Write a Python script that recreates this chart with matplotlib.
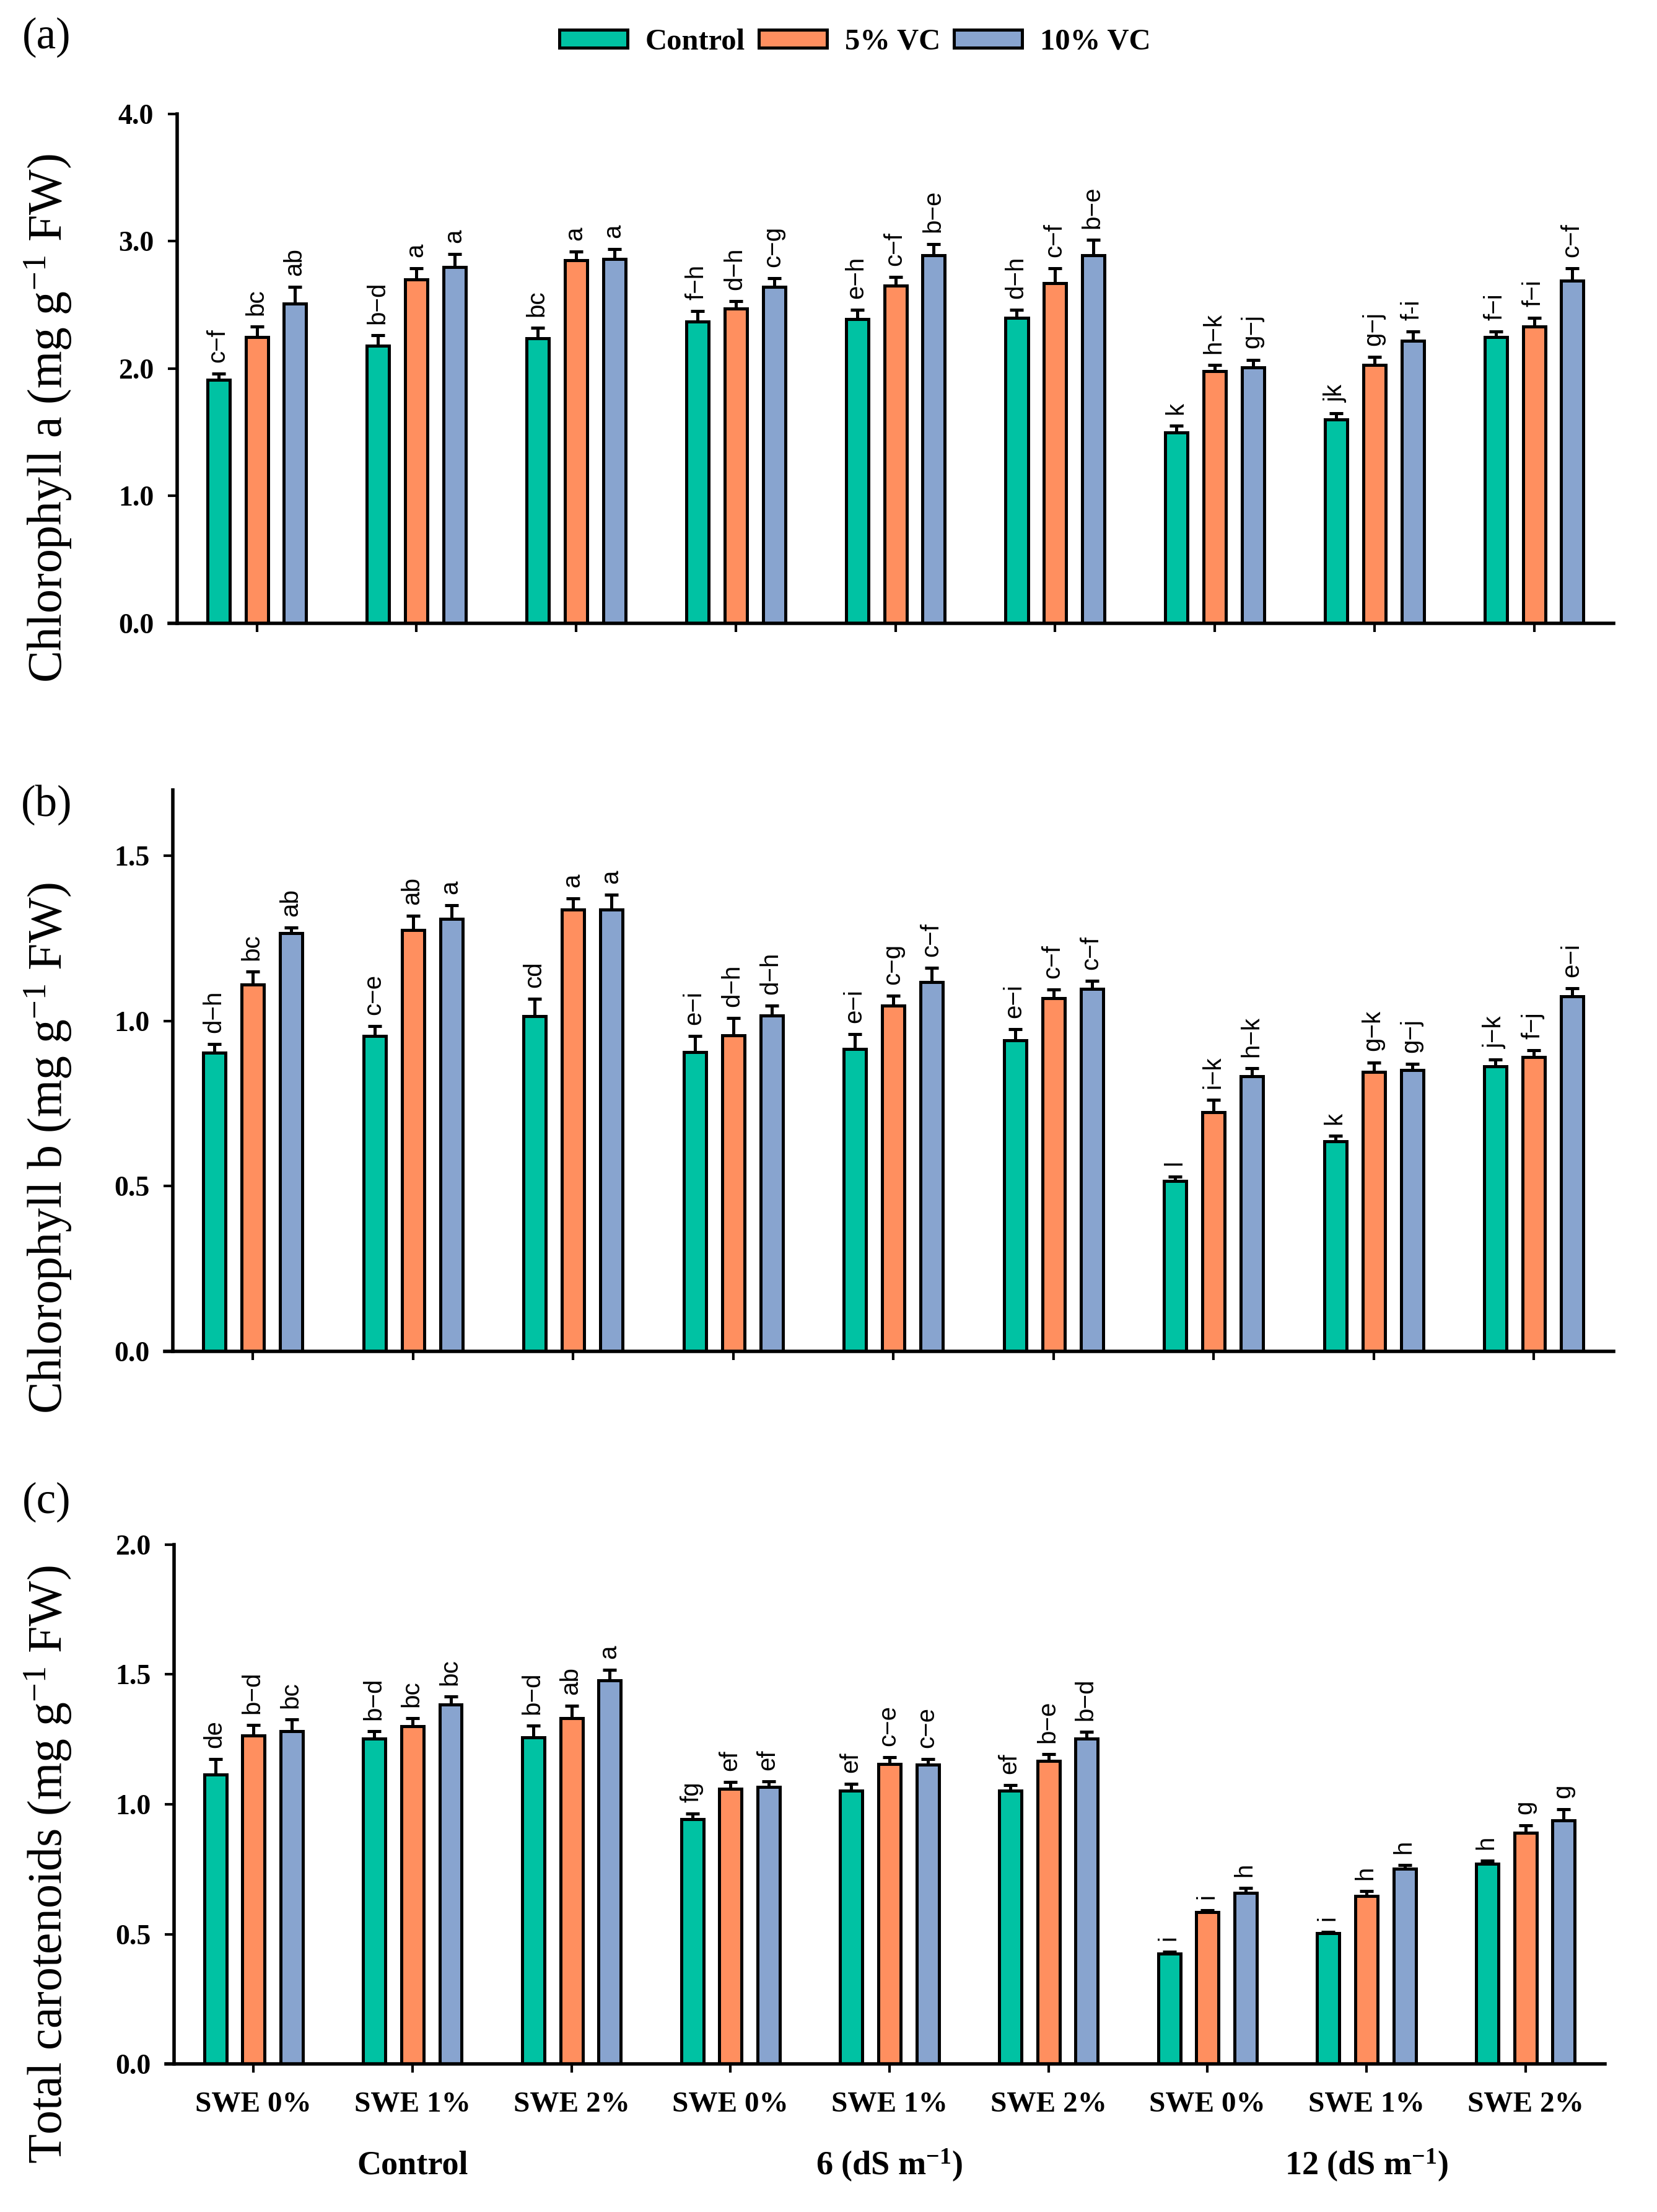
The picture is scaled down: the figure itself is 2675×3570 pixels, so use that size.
import numpy as np
import matplotlib
matplotlib.use("Agg")
import matplotlib.pyplot as plt
from matplotlib.patches import Patch
from matplotlib.transforms import blended_transform_factory

plt.rcParams['font.family'] = ['Liberation Serif', 'DejaVu Serif']
plt.rcParams['mathtext.fontset'] = 'custom'
plt.rcParams['mathtext.rm'] = 'Liberation Serif'
plt.rcParams['mathtext.bf'] = 'Liberation Serif:bold'
plt.rcParams['mathtext.default'] = 'regular'

# x categories
swe_labels = ['SWE 0%', 'SWE 1%', 'SWE 2%'] * 3
salinity_labels = ['Control', '6 (dS m$^{-1}$)', '12 (dS m$^{-1}$)']
series_names = ['Control', '5% VC', '10% VC']
colors = ['#00C2A3', '#FF8F5F', '#88A4CF']

# (a) chlorophyll a
chla_ctrl = [1.91, 2.18, 2.24, 2.37, 2.39, 2.40, 1.50, 1.60, 2.25]
chla_vc5 = [2.25, 2.70, 2.85, 2.47, 2.65, 2.67, 1.98, 2.03, 2.33]
chla_vc10 = [2.51, 2.80, 2.86, 2.64, 2.89, 2.89, 2.01, 2.22, 2.69]
chla_ctrl_err = [0.05, 0.08, 0.08, 0.08, 0.07, 0.06, 0.05, 0.05, 0.04]
chla_vc5_err = [0.08, 0.09, 0.07, 0.06, 0.07, 0.12, 0.05, 0.06, 0.07]
chla_vc10_err = [0.13, 0.10, 0.08, 0.07, 0.09, 0.12, 0.06, 0.07, 0.10]
chla_ctrl_let = ['c−f', 'b−d', 'bc', 'f−h', 'e−h', 'd−h', 'k', 'jk', 'f−i']
chla_vc5_let = ['bc', 'a', 'a', 'd−h', 'c−f', 'c−f', 'h−k', 'g−j', 'f−i']
chla_vc10_let = ['ab', 'a', 'a', 'c−g', 'b−e', 'b−e', 'g−j', 'f-i', 'c−f']

# (b) chlorophyll b
chlb_ctrl = [0.905, 0.954, 1.014, 0.907, 0.916, 0.941, 0.516, 0.636, 0.863]
chlb_vc5 = [1.11, 1.276, 1.337, 0.957, 1.047, 1.07, 0.724, 0.846, 0.891]
chlb_vc10 = [1.267, 1.309, 1.337, 1.016, 1.118, 1.097, 0.832, 0.851, 1.075]
chlb_ctrl_err = [0.025, 0.03, 0.054, 0.048, 0.044, 0.034, 0.013, 0.017, 0.021]
chlb_vc5_err = [0.04, 0.042, 0.035, 0.052, 0.029, 0.026, 0.037, 0.029, 0.021]
chlb_vc10_err = [0.017, 0.042, 0.045, 0.03, 0.044, 0.025, 0.026, 0.02, 0.024]
chlb_ctrl_let = ['d−h', 'c−e', 'cd', 'e−i', 'e−i', 'e−i', 'l', 'k', 'j−k']
chlb_vc5_let = ['bc', 'ab', 'a', 'd−h', 'c−g', 'c−f', 'i−k', 'g−k', 'f−j']
chlb_vc10_let = ['ab', 'a', 'a', 'd−h', 'c−f', 'c−f', 'h−k', 'g−j', 'e−i']

# (c) total carotenoids
car_ctrl = [1.115, 1.254, 1.258, 0.943, 1.053, 1.053, 0.425, 0.503, 0.771]
car_vc5 = [1.266, 1.30, 1.332, 1.06, 1.156, 1.167, 0.584, 0.648, 0.89]
car_vc10 = [1.282, 1.385, 1.478, 1.066, 1.153, 1.252, 0.659, 0.751, 0.938]
car_ctrl_err = [0.06, 0.027, 0.046, 0.021, 0.025, 0.022, 0.007, 0.006, 0.011]
car_vc5_err = [0.04, 0.032, 0.048, 0.027, 0.025, 0.027, 0.009, 0.018, 0.03]
car_vc10_err = [0.045, 0.03, 0.04, 0.023, 0.021, 0.027, 0.018, 0.016, 0.042]
car_ctrl_let = ['de', 'b−d', 'b−d', 'fg', 'ef', 'ef', 'i', 'i', 'h']
car_vc5_let = ['b−d', 'bc', 'ab', 'ef', 'c−e', 'b−e', 'i', 'h', 'g']
car_vc10_let = ['bc', 'bc', 'a', 'ef', 'c−e', 'b−d', 'h', 'h', 'g']

panels = [
    dict(tag='(a)', ylabel='Chlorophyll a (mg g$^{-1}$ FW)', ylim=4.0, yticks=np.arange(0, 4.01, 1.0),
         vals=[chla_ctrl, chla_vc5, chla_vc10], errs=[chla_ctrl_err, chla_vc5_err, chla_vc10_err],
         lets=[chla_ctrl_let, chla_vc5_let, chla_vc10_let],
         rect=[0.1068, 0.7182, 0.8672, 0.2303], tag_y=0.983, lab_y=0.811),
    dict(tag='(b)', ylabel='Chlorophyll b (mg g$^{-1}$ FW)', ylim=1.7, yticks=np.arange(0, 1.51, 0.5),
         vals=[chlb_ctrl, chlb_vc5, chlb_vc10], errs=[chlb_ctrl_err, chlb_vc5_err, chlb_vc10_err],
         lets=[chlb_ctrl_let, chlb_vc5_let, chlb_vc10_let],
         rect=[0.1043, 0.3891, 0.8697, 0.2538], tag_y=0.636, lab_y=0.481),
    dict(tag='(c)', ylabel='Total carotenoids (mg g$^{-1}$ FW)', ylim=2.0, yticks=np.arange(0, 2.01, 0.5),
         vals=[car_ctrl, car_vc5, car_vc10], errs=[car_ctrl_err, car_vc5_err, car_vc10_err],
         lets=[car_ctrl_let, car_vc5_let, car_vc10_let],
         rect=[0.1050, 0.0669, 0.8636, 0.2348], tag_y=0.321, lab_y=0.157),
]

fig = plt.figure(figsize=(26.75, 35.7), dpi=100)
x = np.arange(len(swe_labels))
width = 0.14
offsets = [-0.24, 0.0, 0.24]
lw = 3.6

for i, p in enumerate(panels):
    ax = fig.add_axes(p['rect'])
    for k in range(3):
        xs = x + offsets[k]
        v = np.array(p['vals'][k])
        e = np.array(p['errs'][k])
        ax.errorbar(xs, v, yerr=[np.zeros_like(e), e], fmt='none', ecolor='black',
                    elinewidth=lw, capsize=8, capthick=lw, zorder=1)
        ax.bar(xs, v, width=width, color=colors[k], edgecolor='black', linewidth=lw, zorder=2)
        for xi, vi, ei, t in zip(xs, v, e, p['lets'][k]):
            ax.annotate(t, (xi, vi + ei), xytext=(-1, 13), textcoords='offset points',
                        rotation=90, ha='center', va='bottom', fontsize=29,
                        family='Liberation Sans')
    ax.set_xlim(-0.5, len(x) - 0.5)
    ax.set_ylim(0, p['ylim'])
    ax.set_yticks(p['yticks'])
    ax.set_yticklabels([f'{t:.1f}' for t in p['yticks']], fontsize=33, fontweight='bold')
    ax.set_xticks(x)
    ax.spines['top'].set_visible(False)
    ax.spines['right'].set_visible(False)
    ax.spines['left'].set_linewidth(4)
    ax.spines['bottom'].set_linewidth(4)
    ax.spines['bottom'].set_bounds(-0.55, len(x) - 0.5)
    ax.tick_params(axis='y', length=11, width=3, pad=16)
    ax.tick_params(axis='x', length=10, width=3, pad=22)
    if i == 2:
        ax.set_xticklabels(swe_labels, fontsize=34, fontweight='bold')
        tr = blended_transform_factory(ax.transData, fig.transFigure)
        for gx, g in zip([1, 4, 7], salinity_labels):
            ax.text(gx, 0.021, g, transform=tr, ha='center', va='center',
                    fontsize=39, fontweight='bold')
    else:
        ax.set_xticklabels([])
    fig.text(0.028, p['tag_y'], p['tag'], fontsize=51, ha='center', va='center')
    fig.text(0.029, p['lab_y'], p['ylabel'], fontsize=56, rotation=90, ha='center', va='center')

handles = [Patch(facecolor=c, edgecolor='black', linewidth=lw) for c in colors]
leg = fig.legend(handles, series_names, loc='center', bbox_to_anchor=(0.516, 0.981), ncol=3,
                 frameon=False, prop={'weight': 'bold', 'size': 35},
                 handlelength=2.26, handleheight=0.55, handletextpad=0.6, columnspacing=0.45)

fig.savefig('out.png', dpi=100)
